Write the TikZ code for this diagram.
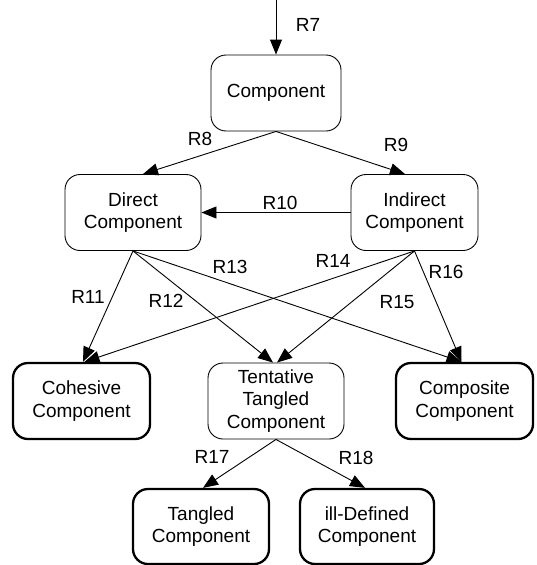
\documentclass[tikz,border=0pt]{standalone}
\usepackage{fontspec}
\setmainfont{Liberation Sans}
\usetikzlibrary{arrows.meta}
\begin{document}
\begin{tikzpicture}[x=1pt,y=-1pt,
  box/.style={draw, rounded corners=15pt, minimum height=76pt, inner sep=0pt,
    align=center, font=\fontsize{19}{22.5}\selectfont, line width=0.9pt},
  boldbox/.style={box, line width=2.3pt},
  lbl/.style={font=\fontsize{19}{22}\selectfont, inner sep=0pt},
  arr/.style={-{Triangle[length=15pt,width=12pt]}, line width=0.9pt}
]
\useasboundingbox (0,0) rectangle (536,565);

\node[box, minimum width=130pt] (comp) at (276,93) {Component};
\node[box, minimum width=136pt] (dc) at (133,212.5) {Direct\\Component};
\node[box, minimum width=127pt] (ic) at (414.5,212.5) {Indirect\\Component};
\node[boldbox, minimum width=137pt] (coh) at (81.5,401) {Cohesive\\Component};
\node[box, minimum width=136pt] (tt) at (276,401) {Tentative\\Tangled\\Component};
\node[boldbox, minimum width=137pt] (cmp) at (464.5,401) {Composite\\Component};
\node[boldbox, minimum width=136pt, minimum height=75pt] (tg) at (201,526.5) {Tangled\\Component};
\node[boldbox, minimum width=134pt, minimum height=75pt] (ill) at (367,526.5) {ill-Defined\\Component};

\coordinate (in) at (276,0);
\draw[arr] (in) -- (comp.north);
\draw[arr] (comp.south) -- ([xshift=10pt]dc.north);
\draw[arr] (comp.south) -- ([xshift=-9.5pt]ic.north);
\draw[arr] (ic.west) -- (dc.east);
\draw[arr] (dc.south) -- ([xshift=1.5pt]coh.north);
\draw[arr] (dc.south) -- ([xshift=-3pt]tt.north);
\draw[arr] (dc.south) -- ([xshift=-3pt]cmp.north);
\draw[arr] (ic.south) -- ([xshift=3pt]coh.north);
\draw[arr] (ic.south) -- ([xshift=1pt]tt.north);
\draw[arr] (ic.south) -- ([xshift=-3pt]cmp.north);
\draw[arr] (tt.south) -- ([xshift=2pt]tg.north);
\draw[arr] (tt.south) -- ([xshift=-2pt]ill.north);

\node[lbl] (l7) at (308,25) {R7};
\node[lbl] (l8) at (200,139) {R8};
\node[lbl] (l9) at (396,145) {R9};
\node[lbl] (l10) at (280,203) {R10};
\node[lbl] (l11) at (88,297) {R11};
\node[lbl] (l12) at (166,301) {R12};
\node[lbl] (l13) at (230,267) {R13};
\node[lbl] (l14) at (333,261) {R14};
\node[lbl] (l15) at (397,302) {R15};
\node[lbl] (l16) at (446,272) {R16};
\node[lbl] (l17) at (212,457) {R17};
\node[lbl] (l18) at (356,458) {R18};
\end{tikzpicture}
\end{document}
